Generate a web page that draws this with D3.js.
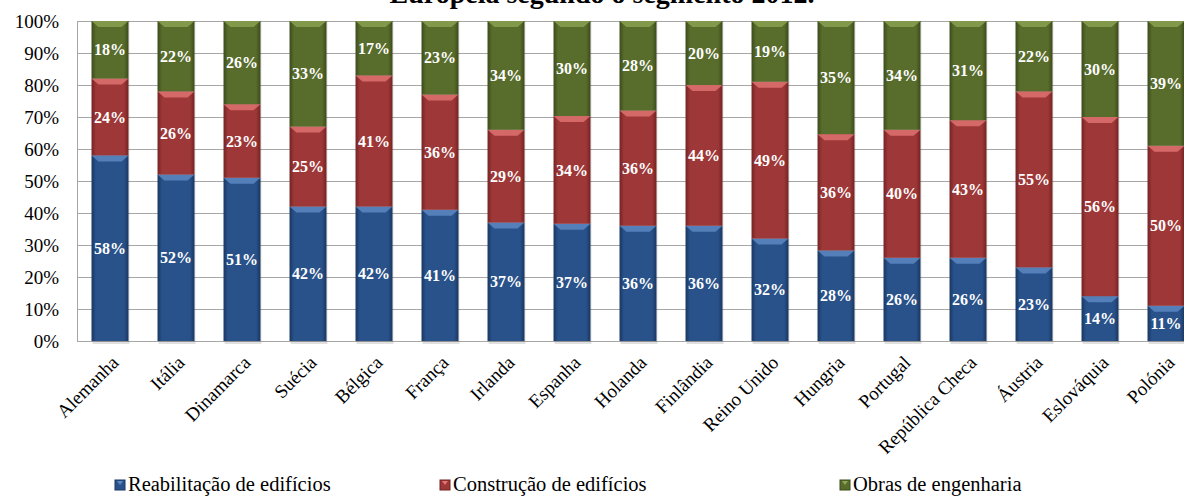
<!DOCTYPE html>
<html>
<head>
<meta charset="utf-8">
<script src="https://cdn.jsdelivr.net/npm/d3@7"></script>
<style>
  body { margin: 0; background: #fff; }
</style>
</head>
<body>
<script>
var countries = ["Alemanha", "Itália", "Dinamarca", "Suécia", "Bélgica", "França", "Irlanda",
  "Espanha", "Holanda", "Finlândia", "Reino Unido", "Hungria", "Portugal", "República Checa",
  "Áustria", "Eslováquia", "Polónia"];
var reabilitacao = [58, 52, 51, 42, 42, 41, 37, 37, 36, 36, 32, 28, 26, 26, 23, 14, 11];
var construcao   = [24, 26, 23, 25, 41, 36, 29, 34, 36, 44, 49, 36, 40, 43, 55, 56, 50];
var obras        = [18, 22, 26, 33, 17, 23, 34, 30, 28, 20, 19, 35, 34, 31, 22, 30, 39];
var seriesNames  = ["Reabilitação de edifícios", "Construção de edifícios", "Obras de engenharia"];
var yTicks = [0, 0.1, 0.2, 0.3, 0.4, 0.5, 0.6, 0.7, 0.8, 0.9, 1];

var keys = ["r", "c", "o"];
var rows = countries.map(function(d, i) {
  return {name: d, r: reabilitacao[i], c: construcao[i], o: obras[i]};
});

var colors = {
  r: {mid: "#29528a", edge: "#193661", top: "#5f8bc4"},
  c: {mid: "#9e3737", edge: "#742323", top: "#e27674"},
  o: {mid: "#586c2c", edge: "#3c4b1b", top: "#8da454"}
};

var serif = "Liberation Serif";
var W = 1184, H = 496;
var plotLeft = 77, plotTop = 21, plotBottom = 341, plotRight = 77 + 17 * 66;

var svg = d3.select("body").append("svg")
    .attr("width", W)
    .attr("height", H)
    .attr("font-family", serif);

var defs = svg.append("defs");
keys.forEach(function(k) {
  var g = defs.append("linearGradient").attr("id", "g-" + k)
      .attr("x1", 0).attr("x2", 1).attr("y1", 0).attr("y2", 0);
  g.append("stop").attr("offset", "0%").attr("stop-color", colors[k].edge);
  g.append("stop").attr("offset", "12%").attr("stop-color", colors[k].mid);
  g.append("stop").attr("offset", "88%").attr("stop-color", colors[k].mid);
  g.append("stop").attr("offset", "100%").attr("stop-color", colors[k].edge);
});

var x = d3.scaleBand().domain(countries).range([plotLeft, plotRight]).paddingInner(0.44).paddingOuter(0.22);
var y = d3.scaleLinear().domain([0, 1]).range([plotBottom, plotTop]);

// title (second line only, top cut off)
svg.append("text")
    .attr("x", 602).attr("y", 3)
    .attr("text-anchor", "middle")
    .attr("font-family", serif)
    .attr("font-size", 28)
    .attr("font-weight", "bold")
    .text("Europeia segundo o segmento 2012.");

// grid
svg.selectAll("line.grid")
    .data(yTicks)
  .enter().append("line")
    .attr("x1", plotLeft).attr("x2", W)
    .attr("y1", function(d) { return Math.round(y(d)) + 0.5; })
    .attr("y2", function(d) { return Math.round(y(d)) + 0.5; })
    .attr("stroke", "#a6a6a6")
    .attr("stroke-width", 1);

svg.append("line")
    .attr("x1", plotLeft + 0.5).attr("x2", plotLeft + 0.5)
    .attr("y1", plotTop).attr("y2", plotBottom + 0.5)
    .attr("stroke", "#a6a6a6");

// y axis
var yAxis = svg.append("g")
    .attr("transform", "translate(" + (plotLeft - 18) + ",0)")
    .call(d3.axisLeft(y).tickValues(yTicks).tickFormat(d3.format(".0%")).tickSize(0))
    .attr("font-family", serif)
    .attr("font-size", 19);
yAxis.select(".domain").remove();
yAxis.selectAll("text")
    .attr("fill", "#000")
    .attr("x", 0)
    .attr("dy", "0.35em");

var stack = d3.stack().keys(keys).offset(d3.stackOffsetExpand);
var series = stack(rows);

// bar shadows
svg.append("g").selectAll("rect")
    .data(rows)
  .enter().append("rect")
    .attr("x", function(d) { return x(d.name) + 1; })
    .attr("y", plotTop)
    .attr("width", x.bandwidth())
    .attr("height", plotBottom - plotTop + 3)
    .attr("fill", "#000")
    .attr("opacity", 0.12);

var layer = svg.selectAll("g.layer")
    .data(series)
  .enter().append("g")
    .attr("class", "layer");

layer.selectAll("rect")
    .data(function(s) { return s.map(function(p) { p.key = s.key; return p; }); })
  .enter().append("rect")
    .attr("x", function(d) { return x(d.data.name); })
    .attr("y", function(d) { return y(d[1]); })
    .attr("width", x.bandwidth())
    .attr("height", function(d) { return y(d[0]) - y(d[1]); })
    .attr("fill", function(d) { return "url(#g-" + d.key + ")"; });

// bevel on top of each segment
layer.selectAll("path")
    .data(function(s) { return s; })
  .enter().append("path")
    .attr("d", function(d) {
      var x0 = x(d.data.name), w = x.bandwidth(), yt = y(d[1]), h = 6;
      return "M" + x0 + "," + yt + "L" + (x0 + w) + "," + yt +
        "L" + (x0 + w - 7) + "," + (yt + h) + "L" + (x0 + 7) + "," + (yt + h) + "Z";
    })
    .attr("fill", function(d) { return colors[d.key].top; })
    .attr("opacity", 0.8);

layer.selectAll("text")
    .data(function(s) { return s; })
  .enter().append("text")
    .attr("x", function(d) { return x(d.data.name) + x.bandwidth() / 2; })
    .attr("y", function(d) { return (y(d[0]) + y(d[1])) / 2; })
    .attr("dy", "0.35em")
    .attr("text-anchor", "middle")
    .attr("fill", "#fff")
    .attr("font-family", serif)
    .attr("font-size", 16)
    .attr("font-weight", "bold")
    .text(function(d) { return d.data[d.key] + "%"; });

// category labels
svg.selectAll("text.cat")
    .data(countries)
  .enter().append("text")
    .attr("class", "cat")
    .attr("text-anchor", "end")
    .attr("transform", function(d) {
      return "translate(" + (x(d) + x.bandwidth() / 2 + 3) + "," + 357 + ") rotate(-45)";
    })
    .attr("dy", "0.5em")
    .attr("font-family", serif)
    .attr("font-size", 19)
    .text(function(d) { return d; });

// legend
var legendX = [115, 440, 840];
var legend = svg.selectAll("g.legend")
    .data(keys)
  .enter().append("g")
    .attr("transform", function(d, i) { return "translate(" + legendX[i] + ",480)"; });
legend.append("rect")
    .attr("width", 10).attr("height", 10)
    .attr("fill", function(d) { return colors[d].mid; })
    .attr("stroke", function(d) { return colors[d].edge; });
legend.append("path")
    .attr("d", "M2,1L8,1L5,5Z")
    .attr("fill", function(d) { return colors[d].top; });
legend.append("text")
    .attr("x", 13).attr("y", 11)
    .attr("font-family", serif)
    .attr("font-size", 20.5)
    .text(function(d, i) { return seriesNames[i]; });
</script>
</body>
</html>
